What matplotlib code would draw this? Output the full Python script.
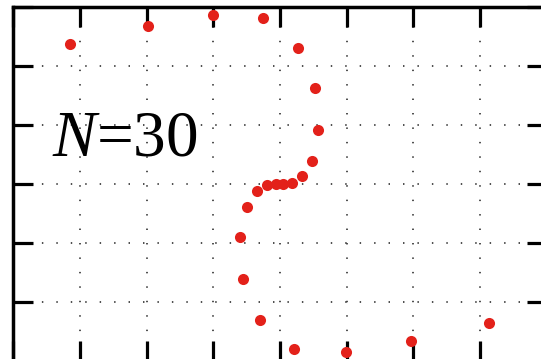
import matplotlib
matplotlib.use("Agg")
import matplotlib.pyplot as plt

x_vals = [0.85, 2.02, 2.99, 3.75, 4.27, 4.53, 4.57, 4.48, 4.33, 4.18, 4.05,
          3.94, 3.80, 3.65, 3.50, 3.40, 3.45, 3.70, 4.21, 4.99, 5.97, 7.13]
y_vals = [5.37, 5.67, 5.86, 5.81, 5.31, 4.62, 3.91, 3.39, 3.14, 3.02, 3.00,
          3.00, 2.98, 2.88, 2.61, 2.10, 1.39, 0.69, 0.20, 0.15, 0.34, 0.64]
x_ticks = [0, 1, 2, 3, 4, 5, 6, 7, 8]
y_ticks = [0, 1, 2, 3, 4, 5, 6]
label = "$N$=30"

plt.rcParams['mathtext.fontset'] = 'custom'
plt.rcParams['mathtext.rm'] = 'Liberation Serif'
plt.rcParams['mathtext.it'] = 'Liberation Serif:italic'

fig = plt.figure(figsize=(5.41, 3.59), dpi=100)
ax = fig.add_axes([13.3 / 541, 1 - 361 / 359, (546.7 - 13.3) / 541, 354 / 359])
ax.set_xlim(0, 8)
ax.set_ylim(0, 6)
ax.set_xticks(x_ticks)
ax.set_yticks(y_ticks)
ax.set_xticklabels([])
ax.set_yticklabels([])
ax.tick_params(direction='in', length=14.5, width=2.3, top=True, right=True,
               color='black')
for s in ax.spines.values():
    s.set_linewidth(2.5)
ax.grid(True, color='0.25', linewidth=1.3, linestyle=(0, (0.8, 7.2)))
ax.set_axisbelow(True)

ax.scatter(x_vals, y_vals, s=64, color='#e3211a', zorder=3, clip_on=False,
           linewidths=0)

t = ax.text(0, 0, label, transform=None, fontsize=47,
            family='Liberation Serif', va='baseline', ha='left')
t.set_position((52, 359 - 155))

fig.savefig("out.png", dpi=100)
